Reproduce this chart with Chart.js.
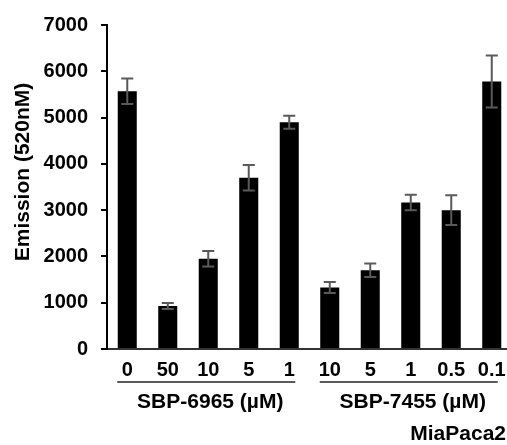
<!DOCTYPE html>
<html>
<head>
<meta charset="utf-8">
<script src="https://cdn.jsdelivr.net/npm/chart.js@4.4.1/dist/chart.umd.min.js"></script>
<style>
    html, body { margin: 0; padding: 0; background: #fff; overflow: hidden; }
    #wrap { width: 520px; height: 445px; }
</style>
</head>
<body>
<div id="wrap"><canvas id="barChart"></canvas></div>
<script>
// categorias (concentração em µM) e valores
const categories = ['0', '50', '10', '5', '1', '10', '5', '1', '0.5', '0.1'];
const emission = [5570, 930, 1950, 3700, 4900, 1330, 1700, 3165, 3000, 5780];
const errors = [275, 65, 165, 275, 140, 120, 145, 170, 320, 560];
const yTicks = [0, 1000, 2000, 3000, 4000, 5000, 6000, 7000];

// grupos de compostos
const groupLabels = ['SBP-6965 (µM)', 'SBP-7455 (µM)'];
const groupStart = [0, 5];
const groupEnd = [4, 9];

const yTitle = 'Emission (520nM)';
const cellLine = 'MiaPaca2';

const FONT = "'Liberation Sans', Arial, sans-serif";

const extras = {
    id: 'extras',
    afterDatasetsDraw(chart) {
        const { ctx } = chart;
        const y = chart.scales.y;
        const meta = chart.getDatasetMeta(0);
        ctx.save();
        ctx.strokeStyle = '#5a5a5a';
        ctx.lineWidth = 2;
        meta.data.forEach((bar, i) => {
            const cx = bar.x;
            const top = y.getPixelForValue(emission[i] + errors[i]);
            const bot = y.getPixelForValue(emission[i] - errors[i]);
            ctx.beginPath();
            ctx.moveTo(cx, top);
            ctx.lineTo(cx, bot);
            ctx.moveTo(cx - 6, top);
            ctx.lineTo(cx + 6, top);
            ctx.moveTo(cx - 6, bot);
            ctx.lineTo(cx + 6, bot);
            ctx.stroke();
        });
        ctx.restore();
    },
    afterDraw(chart) {
        const { ctx, chartArea } = chart;
        const x = chart.scales.x;
        ctx.save();
        // colchetes dos grupos
        const lineY = chartArea.bottom + 33;
        ctx.strokeStyle = '#5a5a5a';
        ctx.lineWidth = 2;
        ctx.fillStyle = '#000';
        ctx.font = 'bold 21px ' + FONT;
        ctx.textAlign = 'center';
        ctx.textBaseline = 'middle';
        groupLabels.forEach((label, g) => {
            const x0 = x.getPixelForValue(groupStart[g]) - 10;
            const x1 = x.getPixelForValue(groupEnd[g]) + 6;
            ctx.beginPath();
            ctx.moveTo(x0, lineY);
            ctx.lineTo(x1, lineY);
            ctx.stroke();
            ctx.fillText(label, (x0 + x1) / 2 + 4, lineY + 20);
        });
        // linha celular
        ctx.textAlign = 'right';
        ctx.fillText(cellLine, 506, chartArea.bottom + 85);
        // título do eixo y
        ctx.translate(23, (chartArea.top + chartArea.bottom) / 2 - 15);
        ctx.rotate(-Math.PI / 2);
        ctx.textAlign = 'center';
        ctx.font = 'bold 21px ' + FONT;
        ctx.fillText(yTitle, 0, 0);
        ctx.restore();
    }
};

const ctx = document.getElementById('barChart');
new Chart(ctx, {
    type: 'bar',
    data: {
        labels: categories,
        datasets: [{
            data: emission,
            backgroundColor: '#000',
            borderWidth: 0,
            barPercentage: 0.47,
            categoryPercentage: 1
        }]
    },
    options: {
        responsive: true,
        maintainAspectRatio: false,
        animation: false,
        layout: { padding: { top: 22, right: 8, bottom: 0, left: 0 } },
        plugins: {
            legend: { display: false },
            tooltip: { enabled: false }
        },
        scales: {
            x: {
                grid: { display: false, drawTicks: false },
                border: { display: true, color: '#333', width: 2 },
                ticks: {
                    color: '#000',
                    padding: 9,
                    font: { size: 20, weight: 'bold', family: FONT }
                },
                afterFit: (s) => { s.height = 96; }
            },
            y: {
                min: 0,
                max: 7000,
                afterBuildTicks: (s) => { s.ticks = yTicks.map(v => ({ value: v })); },
                grid: { drawOnChartArea: false, drawTicks: true, tickLength: 6, color: '#000', lineWidth: 2 },
                border: { display: true, color: '#000', width: 2 },
                ticks: {
                    color: '#000',
                    padding: 13,
                    callback: (v) => String(v),
                    font: { size: 20, weight: 'bold', family: FONT }
                },
                afterFit: (s) => { s.width = 107; }
            }
        }
    },
    plugins: [extras]
});
</script>
</body>
</html>
